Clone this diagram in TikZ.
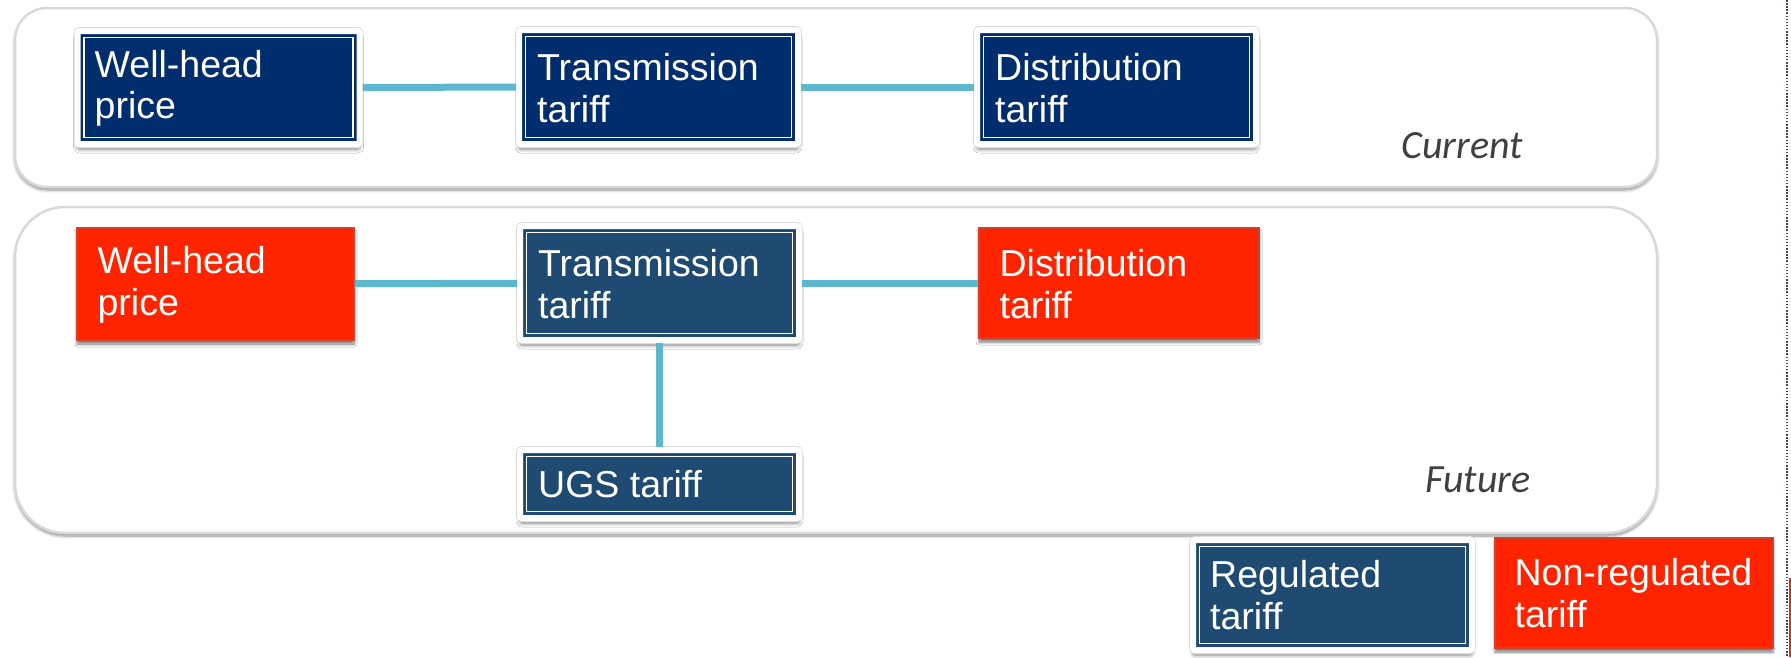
\documentclass[tikz,border=0pt]{standalone}
\usepackage{fontspec}
\setmainfont{Liberation Sans}
\newfontfamily\capfont{Carlito}
\usetikzlibrary{shadows.blur}
\definecolor{navy}{HTML}{002D6E}
\definecolor{steel}{HTML}{1F4A72}
\definecolor{nred}{HTML}{FF2400}
\definecolor{nredline}{HTML}{D0402F}
\definecolor{linkcyan}{HTML}{5CB8CF}
\definecolor{panelline}{HTML}{D8D8D8}
\definecolor{capgray}{HTML}{404040}
\definecolor{dotline}{HTML}{4A3C6A}
\tikzset{
  panel/.style={draw=panelline, line width=2.5pt, fill=white,
    blur shadow={shadow xshift=0pt, shadow yshift=-3pt, shadow blur radius=3pt, shadow blur steps=6, shadow opacity=45}},
  regbox/.style={fill=#1, draw=white, line width=6pt, rounded corners=2pt, inner sep=0pt,
    blur shadow={shadow xshift=0pt, shadow yshift=-5pt, shadow blur radius=4pt, shadow blur steps=6, shadow opacity=50},
    preaction={draw=black!14, line width=7.6pt},
    path picture={\draw[white, line width=1.4pt, sharp corners]
      ([shift={(6.5pt,-6.5pt)}]path picture bounding box.north west) rectangle
      ([shift={(-6.5pt,6.5pt)}]path picture bounding box.south east);}},
  freebox/.style={fill=nred, draw=nredline, line width=1.2pt, inner sep=0pt,
    blur shadow={shadow xshift=0pt, shadow yshift=-4pt, shadow blur radius=3pt, shadow blur steps=6, shadow opacity=55}},
  boxtext/.style={text=white, font=\fontsize{37.5}{41.5}\selectfont, align=left, inner sep=0pt, anchor=west},
  connector/.style={draw=linkcyan, line width=7pt},
  panelcaption/.style={text=capgray, font=\capfont\itshape\fontsize{40}{48}\selectfont, inner sep=0pt, anchor=base}
}
\begin{document}
\begin{tikzpicture}[x=1pt,y=-1pt]
\useasboundingbox (0,0) rectangle (1791,657);
% panels
\draw[panel, rounded corners=32pt] (15,8) rectangle (1657,187);
\draw[panel, rounded corners=50pt] (15,207) rectangle (1657,533);
% current row
\node[regbox=navy, minimum width=282pt, minimum height=113pt] (cwh) at (218.5,87.5) {};
\node[regbox=navy, minimum width=279pt, minimum height=114pt] (ctr) at (658.5,87) {};
\node[regbox=navy, minimum width=279pt, minimum height=114pt] (cdi) at (1116.5,87) {};
% future row
\node[freebox, minimum width=277pt, minimum height=112pt] (fwh) at (215.5,284) {};
\node[regbox=steel, minimum width=279pt, minimum height=114pt] (ftr) at (659.5,283) {};
\node[freebox, minimum width=280pt, minimum height=110pt] (fdi) at (1119,283) {};
\node[regbox=steel, minimum width=279pt, minimum height=68pt] (ugs) at (659.5,484) {};
% legend
\node[regbox=steel, minimum width=279pt, minimum height=110pt] (reg) at (1332.5,595) {};
\node[freebox, minimum width=278pt, minimum height=110pt] (nreg) at (1634,593) {};
% connectors
\draw[connector] (cwh) -- (ctr);
\draw[connector] (ctr) -- (cdi);
\draw[connector] (fwh) -- (ftr);
\draw[connector] (ftr) -- (fdi);
\draw[connector] (ftr) -- (ugs);
% texts
\node[boxtext] (cwht) at ([xshift=20pt,yshift=-1pt]cwh.west) {Well-head\\price};
\node[boxtext] (ctrt) at ([xshift=21pt,yshift=-1pt]ctr.west) {Transmission\\tariff};
\node[boxtext] (cdit) at ([xshift=21pt,yshift=-1pt]cdi.west) {Distribution\\tariff};
\node[boxtext] (fwht) at ([xshift=21pt,yshift=-1pt]fwh.west) {Well-head\\price};
\node[boxtext] (ftrt) at ([xshift=21pt,yshift=-1pt]ftr.west) {Transmission\\tariff};
\node[boxtext] (fdit) at ([xshift=21pt,yshift=-1pt]fdi.west) {Distribution\\tariff};
\node[boxtext] (ugst) at ([xshift=21pt]ugs.west) {UGS tariff};
\node[boxtext] (regt) at ([xshift=20pt]reg.west) {Regulated\\tariff};
\node[boxtext] (nregt) at ([xshift=20pt]nreg.west) {Non-regulated\\tariff};
% captions
\node[panelcaption] (curcap) at (1462,158) {Current};
\node[panelcaption] (futcap) at (1478,492) {Future};
% right-edge marks
\coordinate (dtop) at (1787,0);
\coordinate (dbot) at (1787,657);
\draw[dotline, line width=1.6pt, dash pattern=on 1.5pt off 1.6pt] (dtop) -- (dbot);
\coordinate (rtop) at (1790,578);
\coordinate (rbot) at (1790,657);
\draw[nred, line width=2pt] (rtop) -- (rbot);
\end{tikzpicture}
\end{document}
